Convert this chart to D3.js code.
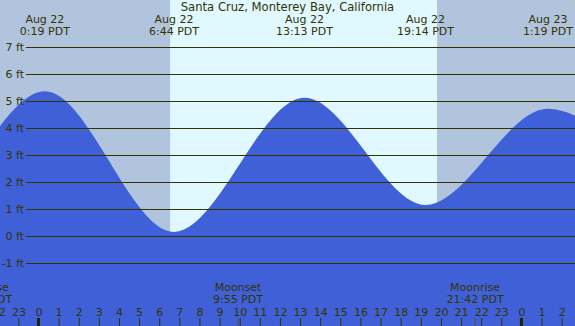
<!DOCTYPE html>
<meta charset="utf-8">
<html>
<head>
<title>Santa Cruz tides</title>
<style>
  body { margin: 0; }
  svg { display: block; font-family: "DejaVu Sans", sans-serif; font-size: 11px; }
</style>
</head>
<body>
<div id="viz"></div>
<script src="https://cdnjs.cloudflare.com/ajax/libs/d3/7.8.5/d3.min.js"></script>
<script>
// hours since Aug 22 00:00 PDT (first and last extremes are off screen)
var tideTimes   = [-12.2, -5.9, 0.317, 6.733, 13.217, 19.233, 25.317, 31.5, 37.8];
var tideHeights = [4.9, 0.95, 5.36, 0.15, 5.12, 1.15, 4.71, 2.6, 5.0];

var labelTimes = [0.317, 6.733, 13.217, 19.233, 25.317];
var labelDates = ["Aug 22", "Aug 22", "Aug 22", "Aug 22", "Aug 23"];
var labelClock = ["0:19 PDT", "6:44 PDT", "13:13 PDT", "19:14 PDT", "1:19 PDT"];

var sunTimes = [6.54, 19.81];        // sunrise, sunset

var moonTimes  = [-2.72, 9.917, 21.7];
var moonNames  = ["Moonrise", "Moonset", "Moonrise"];
var moonClock  = ["21:17 PDT", "9:55 PDT", "21:42 PDT"];

var feetTicks = [-1, 0, 1, 2, 3, 4, 5, 6, 7];
var hourTicks = d3.range(-2, 27);
var midnights = [0, 24];

var W = 575, H = 326;
var ink = "#333300";

var x = d3.scaleLinear().domain([0, 24]).range([38.5, 521.4]);
var y = d3.scaleLinear().domain([-1, 7]).range([263, 47]);

var svg = d3.select("#viz").append("svg")
    .attr("width", W)
    .attr("height", H);

// night / day background
svg.append("rect")
    .attr("width", W).attr("height", H)
    .attr("fill", "#b0c4de");
svg.append("rect")
    .attr("x", x(sunTimes[0]))
    .attr("width", x(sunTimes[1]) - x(sunTimes[0]))
    .attr("y", 0).attr("height", H)
    .attr("fill", "#e0f8ff");

// tide curve
var pts = tideTimes.map(function (t, i) { return [t, tideHeights[i]]; });
var area = d3.area()
    .x(function (d) { return x(d[0]); })
    .y0(H)
    .y1(function (d) { return y(d[1]); })
    .curve(d3.curveMonotoneX);
svg.append("path")
    .datum(pts)
    .attr("d", area)
    .attr("fill", "#4060d8");

// height grid
var yAxis = d3.axisLeft(y)
    .tickValues(feetTicks)
    .tickSize(W - 26)
    .tickPadding(2)
    .tickFormat(function (d) { return d + " ft"; });
var gy = svg.append("g")
    .attr("transform", "translate(" + W + ",0)")
    .call(yAxis);
gy.select(".domain").remove();
gy.selectAll("line").attr("stroke", ink);
gy.selectAll("text").attr("fill", ink).attr("font-size", 11).attr("font-family", "DejaVu Sans");

// hour axis
var xAxis = d3.axisTop(x)
    .tickValues(hourTicks)
    .tickSize(8)
    .tickPadding(2)
    .tickFormat(function (d) { return ((d % 24) + 24) % 24; });
var gx = svg.append("g")
    .attr("transform", "translate(0," + H + ")")
    .call(xAxis);
gx.select(".domain").remove();
gx.selectAll("line").attr("stroke", ink);
gx.selectAll("text").attr("fill", ink).attr("font-size", 11).attr("font-family", "DejaVu Sans");

svg.selectAll(".midnight")
    .data(midnights).enter()
    .append("line")
    .attr("x1", function (d) { return x(d); })
    .attr("x2", function (d) { return x(d); })
    .attr("y1", H - 8).attr("y2", H)
    .attr("stroke", "#222200")
    .attr("stroke-width", 3);

svg.selectAll(".moontick")
    .data(moonTimes).enter()
    .append("line")
    .attr("x1", function (d) { return x(d); })
    .attr("x2", function (d) { return x(d); })
    .attr("y1", H - 8).attr("y2", H)
    .attr("stroke", "#555533")
    .attr("stroke-width", 1);

// moon labels
var moon = svg.selectAll(".moon")
    .data(moonTimes).enter()
    .append("text")
    .attr("text-anchor", "middle")
    .attr("fill", ink);
moon.append("tspan")
    .attr("x", function (d) { return x(d); })
    .attr("y", 291)
    .text(function (d, i) { return moonNames[i]; });
moon.append("tspan")
    .attr("x", function (d) { return x(d); })
    .attr("y", 303)
    .text(function (d, i) { return moonClock[i]; });

// high / low labels
var lab = svg.selectAll(".tidelab")
    .data(labelTimes).enter()
    .append("text")
    .attr("text-anchor", "middle")
    .attr("fill", ink);
lab.append("tspan")
    .attr("x", function (d) { return x(d); })
    .attr("y", 23)
    .text(function (d, i) { return labelDates[i]; });
lab.append("tspan")
    .attr("x", function (d) { return x(d); })
    .attr("y", 35)
    .text(function (d, i) { return labelClock[i]; });

svg.append("text")
    .attr("x", W / 2)
    .attr("y", 11)
    .attr("text-anchor", "middle")
    .attr("font-size", 11.6)
    .attr("fill", ink)
    .text("Santa Cruz, Monterey Bay, California");
</script>
</body>
</html>
